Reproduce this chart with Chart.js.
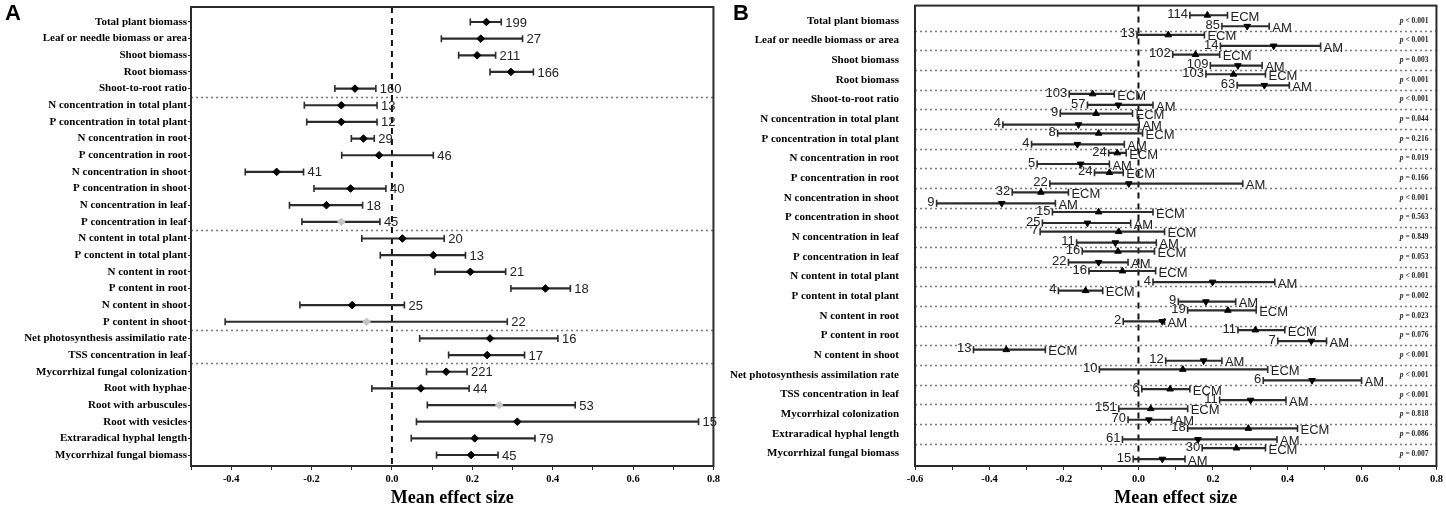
<!DOCTYPE html>
<html>
<head>
<meta charset="utf-8">
<script src="https://cdn.jsdelivr.net/npm/chart.js@4.4.0/dist/chart.umd.min.js"></script>
<style>
  body { margin: 0; background: #fff; width: 1446px; height: 512px; overflow: hidden; position: relative; }
  #wrapA { position: absolute; left: 0; top: 0; width: 723px; height: 512px; }
  #wrapB { position: absolute; left: 700px; top: 0; width: 746px; height: 512px; }
  .panel { position: absolute; font: bold 22px 'Liberation Sans', Arial, sans-serif; color: #000; }
</style>
</head>
<body>
<div id="wrapA"><canvas id="chartA"></canvas></div>
<div id="wrapB"><canvas id="chartB"></canvas></div>
<div class="panel" style="left:5px;top:0px">A</div>
<div class="panel" style="left:733px;top:0px">B</div>
<script>
// ---- panel A: overall effect sizes ----
const traitsA = [
  'Total plant biomass', 'Leaf or needle biomass or area', 'Shoot biomass', 'Root biomass',
  'Shoot-to-root ratio', 'N concentration in total plant', 'P concentration in total plant',
  'N concentration in root', 'P concentration in root', 'N concentration in shoot',
  'P concentration in shoot', 'N concentration in leaf', 'P concentration in leaf',
  'N content in total plant', 'P conctent in total plant', 'N content in root', 'P content in root',
  'N content in shoot', 'P content in shoot', 'Net photosynthesis assimilatio rate',
  'TSS concentration in leaf', 'Mycorrhizal fungal colonization', 'Root with hyphae',
  'Root with arbuscules', 'Root with vesicles', 'Extraradical hyphal length', 'Mycorrhizal fungal biomass'
];
const meanA = [0.235, 0.221, 0.212, 0.296, -0.092, -0.126, -0.126, -0.071, -0.032, -0.287, -0.103, -0.163, -0.126,
  0.026, 0.103, 0.195, 0.382, -0.099, -0.063, 0.244, 0.237, 0.135, 0.072, 0.267, 0.312, 0.206, 0.197];
const lowA = [0.195, 0.123, 0.166, 0.244, -0.142, -0.218, -0.212, -0.101, -0.125, -0.365, -0.194, -0.255, -0.224,
  -0.075, -0.029, 0.107, 0.296, -0.229, -0.415, 0.069, 0.141, 0.086, -0.050, 0.088, 0.061, 0.048, 0.111];
const highA = [0.272, 0.325, 0.258, 0.352, -0.040, -0.037, -0.037, -0.044, 0.103, -0.220, -0.015, -0.073, -0.030,
  0.130, 0.183, 0.283, 0.444, 0.031, 0.287, 0.413, 0.330, 0.187, 0.192, 0.456, 0.763, 0.356, 0.264];
const nA = [199, 27, 211, 166, 160, 13, 12, 29, 46, 41, 40, 18, 45, 20, 13, 21, 18, 25, 22, 16, 17, 221, 44, 53, 15, 79, 45];
const groupEndsA = [4, 12, 18, 20];
const faintA = [12, 18, 23];
const xTicksA = [-0.5, -0.4, -0.3, -0.2, -0.1, 0, 0.1, 0.2, 0.3, 0.4, 0.5, 0.6, 0.7, 0.8];

// ---- panel B: ECM vs AM ----
const traitsB = [
  'Total plant biomass', 'Leaf or needle biomass or area', 'Shoot biomass', 'Root biomass',
  'Shoot-to-root ratio', 'N concentration in total plant', 'P concentration in total plant',
  'N concentration in root', 'P concentration in root', 'N concentration in shoot',
  'P concentration in shoot', 'N concentration in leaf', 'P concentration in leaf',
  'N content in total plant', 'P content in total plant', 'N content in root', 'P content in root',
  'N content in shoot', 'Net photosynthesis assimilation rate', 'TSS concentration in leaf',
  'Mycorrhizal colonization', 'Extraradical hyphal length', 'Mycorrhizal fungal biomass'
];
const ecmMean = [0.185, 0.080, 0.153, 0.255, -0.123, -0.114, -0.107, -0.057, -0.078, -0.262, -0.107, -0.053,
  -0.055, -0.043, -0.142, 0.240, 0.314, -0.355, 0.119, 0.085, 0.033, 0.295, 0.263];
const ecmLow = [0.138, -0.004, 0.092, 0.181, -0.186, -0.210, -0.217, -0.080, -0.118, -0.339, -0.231, -0.264,
  -0.151, -0.133, -0.215, 0.132, 0.267, -0.443, -0.105, 0.009, -0.053, 0.132, 0.171];
const ecmHigh = [0.239, 0.177, 0.218, 0.341, -0.065, -0.016, 0.011, -0.033, -0.041, -0.188, 0.039, 0.070,
  0.043, 0.046, -0.096, 0.316, 0.393, -0.250, 0.347, 0.138, 0.132, 0.427, 0.341];
const ecmN = [114, 13, 102, 103, 103, 9, 8, 24, 24, 32, 15, 7, 16, 16, 4, 19, 11, 13, 10, 6, 151, 18, 30];
const amMean = [0.292, 0.363, 0.267, 0.338, -0.054, -0.161, -0.164, -0.155, -0.026, -0.367, -0.137, -0.062,
  -0.107, 0.199, 0.181, 0.064, 0.464, 0.175, 0.466, 0.301, 0.028, 0.160, 0.064];
const amLow = [0.224, 0.220, 0.193, 0.265, -0.137, -0.364, -0.287, -0.272, -0.238, -0.542, -0.258, -0.166,
  -0.188, 0.039, 0.107, -0.041, 0.374, 0.073, 0.335, 0.218, -0.028, -0.043, -0.014];
const amHigh = [0.351, 0.489, 0.332, 0.405, 0.039, 0.002, -0.038, -0.078, 0.280, -0.223, -0.021, 0.048,
  -0.028, 0.366, 0.261, 0.070, 0.505, 0.224, 0.599, 0.396, 0.089, 0.372, 0.125];
const amN = [85, 14, 109, 63, 57, 4, 4, 5, 22, 9, 25, 11, 22, 4, 9, 2, 7, 12, 6, 11, 70, 61, 15];
const pB = ['< 0.001', '< 0.001', '= 0.003', '< 0.001', '< 0.001', '= 0.044', '= 0.216', '= 0.019', '= 0.166',
  '< 0.001', '= 0.563', '= 0.849', '= 0.053', '< 0.001', '= 0.002', '= 0.023', '= 0.076', '< 0.001',
  '< 0.001', '< 0.001', '= 0.818', '= 0.086', '= 0.007'];
const xTicksB = [-0.6, -0.5, -0.4, -0.3, -0.2, -0.1, 0, 0.1, 0.2, 0.3, 0.4, 0.5, 0.6, 0.7, 0.8];

const INK = '#2b2b2b';
const SERIF = "'Liberation Serif', 'Times New Roman', serif";
const NUMFONT = "13px 'Liberation Sans Narrow', 'Liberation Sans', Arial, sans-serif";

// whisker lines, end caps and mean markers for one set of rows
function forestSets(lo, mean, hi, ys, marker, rot, meanColors) {
  const sets = lo.map((l, i) => ({
    type: 'line',
    data: [{ x: l, y: ys[i] }, { x: hi[i], y: ys[i] }],
    borderColor: INK, borderWidth: 2.2, pointRadius: 0, order: 3
  }));
  sets.push({
    type: 'scatter',
    data: lo.map((l, i) => ({ x: l, y: ys[i] })).concat(hi.map((h, i) => ({ x: h, y: ys[i] }))),
    pointStyle: 'line', pointRotation: 90, pointRadius: 3.5,
    pointBorderColor: INK, pointBorderWidth: 1.6, order: 2
  });
  sets.push({
    type: 'scatter',
    data: mean.map((m, i) => ({ x: m, y: ys[i] })),
    pointStyle: marker, pointRotation: rot, pointRadius: 3.8,
    pointBackgroundColor: meanColors, pointBorderColor: meanColors, pointBorderWidth: 1, order: 1
  });
  return sets;
}

function zeroLine(yMin, yMax) {
  return {
    type: 'line', data: [{ x: 0, y: yMin }, { x: 0, y: yMax }],
    borderColor: '#111', borderWidth: 2, borderDash: [6, 5], pointRadius: 0, order: 4
  };
}

function makeDecor(sepRows, drawTexts) {
  return {
    id: 'decor',
    beforeDatasetsDraw(chart) {
      const { ctx, chartArea: a, scales: { y } } = chart;
      ctx.save();
      ctx.strokeStyle = '#777';
      ctx.lineWidth = 1.3;
      ctx.setLineDash([2, 3]);
      sepRows.forEach(r => {
        const py = Math.round(y.getPixelForValue(r + 0.5)) + 0.5;
        ctx.beginPath(); ctx.moveTo(a.left, py); ctx.lineTo(a.right, py); ctx.stroke();
      });
      ctx.restore();
    },
    afterDatasetsDraw(chart) {
      const { ctx } = chart;
      ctx.save();
      drawTexts(chart);
      ctx.restore();
    },
    afterDraw(chart) {
      const { ctx, chartArea: a } = chart;
      ctx.save();
      ctx.strokeStyle = INK;
      ctx.lineWidth = 2;
      ctx.strokeRect(a.left, a.top, a.right - a.left, a.bottom - a.top);
      ctx.restore();
    }
  };
}

function xScale(min, ticks) {
  return {
    type: 'linear', min: min, max: 0.8,
    afterBuildTicks: s => { s.ticks = ticks.map(v => ({ value: v })); },
    afterFit: s => { s.height = 46; },
    ticks: {
      callback: v => Math.round(v * 10) % 2 === 0 ? v.toFixed(1) : '',
      font: { family: SERIF, size: 10.5, weight: 'bold' }, color: '#000',
      padding: 3, maxRotation: 0, autoSkip: false
    },
    grid: { drawOnChartArea: false, tickLength: 4, color: INK },
    border: { display: true, width: 2, color: INK },
    title: {
      display: true, text: 'Mean effect size',
      font: { family: SERIF, size: 18, weight: 'bold' }, color: '#000', padding: { top: 0, bottom: 3 }
    }
  };
}

// fixed width for the trait axis, no extra padding from its labels
function fitTraitAxis(width) {
  return s => { s.width = width; s.paddingTop = 0; s.paddingBottom = 0; };
}

// ---- chart A ----
const rowsA = traitsA.map((_, i) => i);
const colorsA = meanA.map((_, i) => faintA.includes(i) ? '#c4c4c4' : '#000');
const decorA = makeDecor(groupEndsA, chart => {
  const { ctx, scales: { x, y } } = chart;
  ctx.fillStyle = '#222';
  ctx.font = NUMFONT;
  ctx.textAlign = 'left';
  ctx.textBaseline = 'middle';
  nA.forEach((n, i) => ctx.fillText(String(n), x.getPixelForValue(highA[i]) + 4, y.getPixelForValue(i) + 1));
});

new Chart(document.getElementById('chartA'), {
  type: 'scatter',
  data: { datasets: [zeroLine(-0.9, 26.66)].concat(forestSets(lowA, meanA, highA, rowsA, 'rectRot', 0, colorsA)) },
  options: {
    responsive: true, maintainAspectRatio: false, animation: false,
    layout: { padding: { left: 0, right: 7, top: 7, bottom: 0 } },
    plugins: { legend: { display: false }, tooltip: { enabled: false } },
    scales: {
      x: xScale(-0.5, xTicksA),
      y: {
        type: 'linear', reverse: true, min: -0.9, max: 26.66,
        afterBuildTicks: s => { s.ticks = rowsA.map(v => ({ value: v })); },
        afterFit: fitTraitAxis(191),
        ticks: {
          callback: v => traitsA[v], autoSkip: false, padding: 1, color: '#000',
          font: { family: SERIF, size: 11, weight: 'bold' }
        },
        grid: { drawOnChartArea: false, tickLength: 3, color: INK },
        border: { display: true, width: 2, color: INK }
      }
    }
  },
  plugins: [decorA]
});

// ---- chart B ----
const rowsB = traitsB.map((_, i) => i);
const ecmRows = rowsB.map(i => i - 0.28);
const amRows = rowsB.map(i => i + 0.28);
const decorB = makeDecor(rowsB.slice(0, -1), chart => {
  const { ctx, chartArea: a, scales: { x, y } } = chart;
  ctx.fillStyle = '#222';
  ctx.font = NUMFONT;
  ctx.textBaseline = 'middle';
  const put = (lo, hi, ns, ys, tag) => {
    lo.forEach((l, i) => {
      const py = y.getPixelForValue(ys[i]);
      ctx.textAlign = 'right';
      ctx.fillText(String(ns[i]), x.getPixelForValue(l) - 2, py - 1);
      ctx.textAlign = 'left';
      ctx.fillText(tag, x.getPixelForValue(hi[i]) + 3, py + 2);
    });
  };
  put(ecmLow, ecmHigh, ecmN, ecmRows, 'ECM');
  put(amLow, amHigh, amN, amRows, 'AM');
  // p values at the right edge
  ctx.textAlign = 'right';
  pB.forEach((p, i) => {
    const py = y.getPixelForValue(i);
    const rx = a.right - 8;
    ctx.font = 'bold 7.5px ' + SERIF;
    const rest = ' ' + p;
    ctx.fillText(rest, rx, py);
    const w = ctx.measureText(rest).width;
    ctx.font = 'italic bold 7.5px ' + SERIF;
    ctx.fillText('p', rx - w, py);
  });
});

new Chart(document.getElementById('chartB'), {
  type: 'scatter',
  data: {
    datasets: [zeroLine(-0.77, 22.63)]
      .concat(forestSets(ecmLow, ecmMean, ecmHigh, ecmRows, 'triangle', 0, '#000'))
      .concat(forestSets(amLow, amMean, amHigh, amRows, 'triangle', 180, '#000'))
  },
  options: {
    responsive: true, maintainAspectRatio: false, animation: false,
    layout: { padding: { left: 0, right: 7, top: 5, bottom: 0 } },
    plugins: { legend: { display: false }, tooltip: { enabled: false } },
    scales: {
      x: xScale(-0.6, xTicksB),
      y: {
        type: 'linear', reverse: true, min: -0.77, max: 22.63,
        afterBuildTicks: s => { s.ticks = rowsB.map(v => ({ value: v })); },
        afterFit: fitTraitAxis(215),
        ticks: {
          callback: v => traitsB[v], autoSkip: false, padding: 8, color: '#000',
          font: { family: SERIF, size: 11, weight: 'bold' }
        },
        grid: { display: false },
        border: { display: true, width: 2, color: INK }
      }
    }
  },
  plugins: [decorB]
});
</script>
</body>
</html>
